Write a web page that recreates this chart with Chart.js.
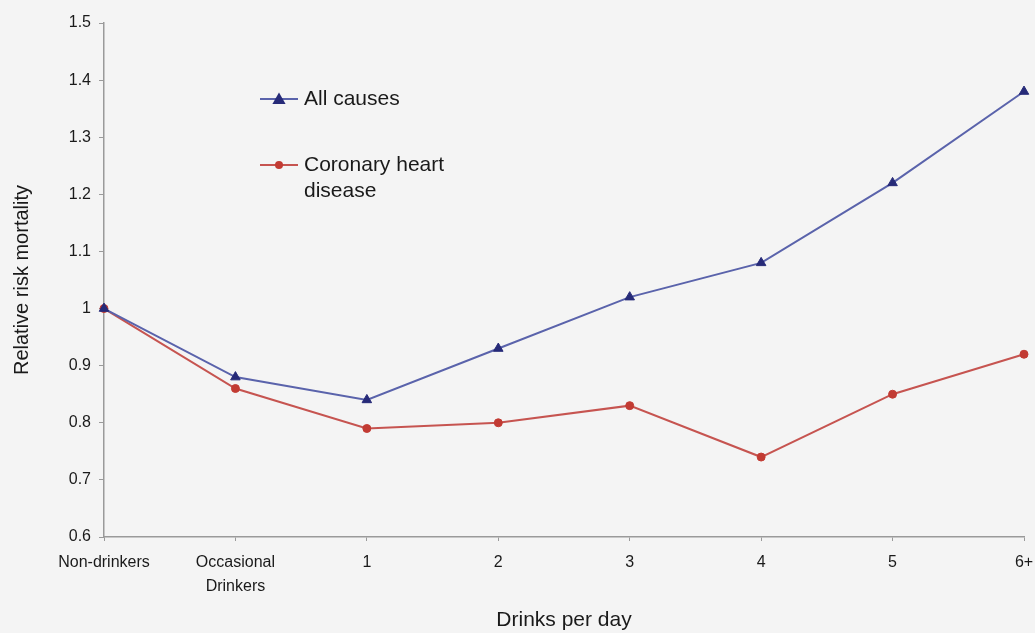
<!DOCTYPE html>
<html>
<head>
<meta charset="utf-8">
<script src="https://cdn.jsdelivr.net/npm/chart.js@4/dist/chart.umd.min.js"></script>
<style>
  html, body { margin: 0; padding: 0; background: #f4f4f4; }
  #wrap { width: 1035px; height: 633px; position: relative; }
</style>
</head>
<body>
<div id="wrap"><canvas id="chart"></canvas></div>
<script>
// Drinking categories along the x axis
const categories = ['Non-drinkers', ['Occasional', 'Drinkers'], '1', '2', '3', '4', '5', '6+'];
// Relative risk of mortality per category
const allCauses = [1.00, 0.88, 0.84, 0.93, 1.02, 1.08, 1.22, 1.38];
const coronaryHeartDisease = [1.00, 0.86, 0.79, 0.80, 0.83, 0.74, 0.85, 0.92];
const seriesNames = ['All causes', 'Coronary heart disease'];
// Value axis range and step
const yMin = 0.6;
const yMax = 1.5;
const yStep = 0.1;

const FONT = 'Liberation Sans, Arial, Helvetica, sans-serif';
const AXIS_GREY = '#9a9a9a';

// Legend drawn inside the plot area, with each entry's line, marker and wrapped label
const insideLegend = {
  id: 'insideLegend',
  afterDraw(chart) {
    const ctx = chart.ctx;
    const area = chart.chartArea;
    const x0 = area.left + 156;
    const rows = [area.top + 76, area.top + 142];
    ctx.save();
    ctx.font = '21px ' + FONT;
    ctx.textBaseline = 'middle';
    ctx.textAlign = 'left';
    chart.data.datasets.forEach((ds, i) => {
      const y = rows[i];
      ctx.strokeStyle = ds.borderColor;
      ctx.lineWidth = ds.borderWidth;
      ctx.beginPath();
      ctx.moveTo(x0, y);
      ctx.lineTo(x0 + 38, y);
      ctx.stroke();
      drawMarker(ctx, ds.pointStyle, x0 + 19, y, ds.pointRadius, ds.pointBackgroundColor);
      // wrap the label into lines no wider than 160px
      const words = ds.label.split(' ');
      const lines = [];
      let cur = '';
      words.forEach(w => {
        const test = cur ? cur + ' ' + w : w;
        if (cur && ctx.measureText(test).width > 160) { lines.push(cur); cur = w; }
        else cur = test;
      });
      if (cur) lines.push(cur);
      ctx.fillStyle = '#1a1a1a';
      lines.forEach((ln, k) => ctx.fillText(ln, x0 + 44, y + k * 26));
    });
    ctx.restore();
  }
};

function drawMarker(ctx, style, x, y, r, color) {
  ctx.save();
  ctx.fillStyle = color;
  ctx.beginPath();
  if (style === 'triangle') {
    const s = r * 1.2;
    ctx.moveTo(x, y - s);
    ctx.lineTo(x + s, y + s * 0.75);
    ctx.lineTo(x - s, y + s * 0.75);
    ctx.closePath();
  } else {
    ctx.arc(x, y, r, 0, Math.PI * 2);
  }
  ctx.fill();
  ctx.restore();
}

new Chart(document.getElementById('chart'), {
  type: 'line',
  data: {
    labels: categories,
    datasets: [
      {
        label: seriesNames[0],
        data: allCauses,
        borderColor: '#5a63ab',
        borderWidth: 2,
        pointStyle: 'triangle',
        pointRadius: 5.5,
        pointBackgroundColor: '#262a78',
        pointBorderColor: '#262a78',
        pointBorderWidth: 1,
        tension: 0
      },
      {
        label: seriesNames[1],
        data: coronaryHeartDisease,
        borderColor: '#c65450',
        borderWidth: 2,
        pointStyle: 'circle',
        pointRadius: 4,
        pointBackgroundColor: '#c23b33',
        pointBorderColor: '#c23b33',
        pointBorderWidth: 1,
        tension: 0
      }
    ]
  },
  options: {
    responsive: true,
    maintainAspectRatio: false,
    animation: false,
    layout: { padding: { top: 23, right: 11, left: 0, bottom: 0 } },
    plugins: {
      legend: { display: false },
      tooltip: { enabled: false }
    },
    scales: {
      x: {
        offset: false,
        grid: { display: true, drawOnChartArea: false, tickLength: 4, color: AXIS_GREY, lineWidth: 1 },
        border: { color: AXIS_GREY, width: 1.5 },
        ticks: {
          color: '#1a1a1a',
          font: { family: FONT, size: 16, lineHeight: 1.5 },
          padding: 10,
          maxRotation: 0,
          autoSkip: false
        },
        title: {
          display: true,
          text: 'Drinks per day',
          color: '#1a1a1a',
          font: { family: FONT, size: 21 },
          padding: { top: 0, bottom: 0 }
        },
        afterFit(scale) {
          scale.height = 96;
          scale.paddingLeft = 0;
          scale.paddingRight = 0;
        }
      },
      y: {
        min: yMin,
        max: yMax,
        grid: { display: true, drawOnChartArea: false, tickLength: 5, color: AXIS_GREY, lineWidth: 1 },
        border: { color: AXIS_GREY, width: 1.5 },
        ticks: {
          stepSize: yStep,
          color: '#1a1a1a',
          font: { family: FONT, size: 16 },
          padding: 8,
          callback: (v) => String(Number(v.toFixed(1)))
        },
        title: {
          display: true,
          text: 'Relative risk mortality',
          color: '#1a1a1a',
          font: { family: FONT, size: 20 },
          padding: { top: 10, bottom: 0 }
        },
        afterFit(scale) {
          scale.width = 104;
          scale.paddingTop = 0;
          scale.paddingBottom = 0;
        }
      }
    }
  },
  plugins: [insideLegend]
});
</script>
</body>
</html>
